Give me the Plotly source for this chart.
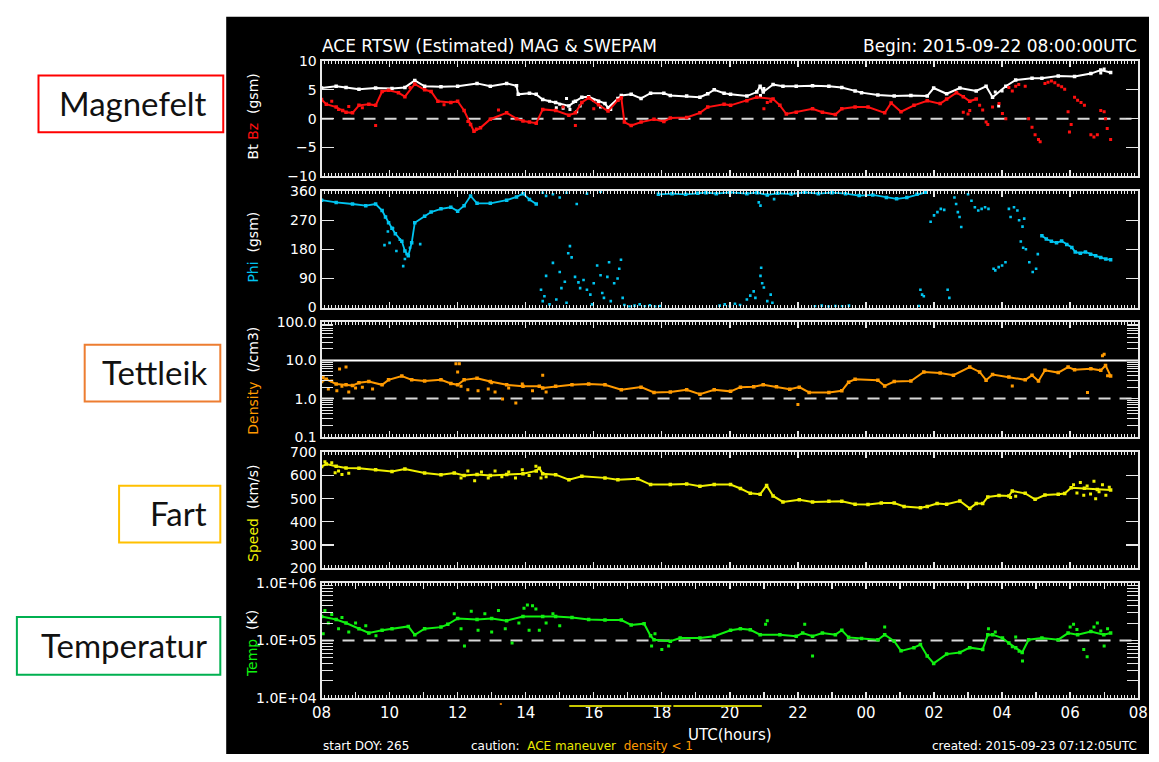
import plotly.graph_objects as go

# ---------------- data (hours since 2015-09-22 08:00 UTC, value) ----------------
HOUR_LABELS = ["08", "10", "12", "14", "16", "18", "20", "22", "00", "02", "04", "06", "08"]

BT_TREND = [(0.0,5.3),(0.43,5.6),(0.72,5.4),(1.10,5.1),(1.59,5.3),(2.07,5.2),(2.45,5.4),(2.74,6.6),(3.03,5.6),(3.51,5.5),
            (4.00,5.6),(4.57,6.1),(4.96,5.6),(5.44,6.1),(5.73,5.7),(5.78,4.2),(6.11,4.4),(6.31,4.2),(6.50,3.3),(6.88,2.8),
            (7.27,2.2),(7.46,3.0),(7.65,3.7),(7.85,3.8),(8.14,3.0),(8.33,2.6),(8.42,1.9),(8.71,3.5),(8.81,4.0),(9.10,4.2),
            (9.39,3.5),(9.67,4.4),(10.06,4.4),(10.25,4.0),(10.73,3.9),(11.12,3.7),(11.35,4.3),(11.54,5.0),(11.83,4.4),(12.02,4.2),
            (12.50,3.9),(12.79,4.6),(12.89,5.6),(12.98,4.6),(13.27,5.9),(13.56,5.6),(13.95,5.6),(14.43,5.7),(14.91,5.6),(15.29,5.4),
            (15.68,4.8),(15.87,4.5),(16.35,4.1),(16.83,3.9),(17.32,4.0),(17.80,3.9),(17.99,5.3),(18.37,4.3),(18.76,5.3),(19.24,4.8),
            (19.53,5.6),(19.72,3.7),(20.11,5.6),(20.40,6.7),(20.88,7.0),(21.17,7.0),(21.65,7.4),(22.13,7.3),(22.61,7.8),(22.90,8.4),(23.19,8.0)]
BT_SCATTER = [(6.7,3.0),(6.9,1.9),(7.0,2.5),(7.1,1.8),(7.2,3.5),(7.3,1.6),(7.4,2.9),(7.5,1.2),(7.6,2.2),(8.0,3.2),(8.2,2.0),
              (8.5,1.6),(12.9,4.0),(13.0,5.2),(19.8,4.6),(19.9,2.2),(20.0,4.8),(22.9,7.9),(23.0,8.6)]

BZ_TREND = [(0.0,3.3),(0.14,2.5),(0.43,2.0),(0.62,1.4),(0.72,1.1),(0.91,1.0),(1.10,2.3),(1.39,2.5),(1.59,2.3),(1.78,4.7),
            (1.97,4.9),(2.26,4.5),(2.45,3.8),(2.74,6.0),(3.03,5.0),(3.22,4.7),(3.42,3.0),(3.80,2.8),(4.00,3.0),(4.19,1.4),
            (4.38,-1.0),(4.48,-2.2),(4.67,-1.6),(4.96,-0.1),(5.44,1.0),(5.73,0.0),(5.92,-0.4),(6.11,-0.6),(6.31,-0.8),(6.50,1.6),
            (6.88,1.4),(7.27,0.6),(7.46,1.0),(7.65,2.8),(7.85,3.6),(8.14,2.4),(8.42,1.3),(8.71,3.2),(8.81,3.6),(8.90,-0.6),
            (9.10,-1.2),(9.39,-0.6),(9.77,-0.1),(10.06,-0.5),(10.25,0.1),(10.73,0.2),(11.12,1.0),(11.35,2.0),(11.83,2.5),(12.02,2.3),
            (12.50,3.1),(12.79,3.7),(13.27,3.4),(13.47,2.3),(13.66,0.8),(13.95,1.1),(14.43,1.7),(14.72,1.1),(15.10,0.7),(15.29,1.7),
            (15.68,2.0),(16.06,2.0),(16.55,1.0),(16.74,2.7),(17.03,1.2),(17.41,2.3),(17.80,3.1),(18.18,2.6),(18.37,3.4),(18.66,4.5),
            (18.86,3.8),(19.05,3.0),(19.24,3.4)]
BZ_SCATTER = [(0.3,3.0),(0.5,1.6),(0.8,2.1),(1.2,1.9),(1.59,-1.2),(2.6,5.4),(3.6,2.4),(4.3,-0.5),(4.55,-1.8),(5.2,1.5),
              (7.46,-1.2),(7.1,2.0),(8.0,1.7),(13.0,1.7),(13.1,2.8),(13.2,3.0),(18.86,1.1),(19.0,0.8),(19.05,1.4),(19.34,2.3),
              (19.43,1.5),(19.53,-0.6),(19.58,-1.0),(19.72,2.0),(19.91,2.6),(20.01,0.9),(20.11,0.0),(20.20,5.4),(20.30,4.8),(20.40,5.6),
              (20.49,5.9),(20.68,5.6),(20.78,0.0),(20.88,-1.5),(20.97,-2.8),(21.07,-3.6),(21.12,-4.0),(21.26,6.1),(21.35,6.3),(21.45,6.5),
              (21.55,6.2),(21.65,5.8),(21.75,5.5),(21.84,5.1),(21.94,1.2),(21.98,-2.3),(22.03,-1.0),(22.13,3.7),(22.22,3.2),(22.32,2.8),
              (22.42,2.3),(22.61,-2.8),(22.70,-3.2),(22.80,-2.8),(22.90,1.4),(23.00,1.2),(23.04,0.0),(23.09,-1.7),(23.19,-3.6)]

PHI_EARLY = [(0.0,332),(0.43,325),(0.91,320),(1.30,315),(1.59,320),(1.78,300),(1.88,280),(1.97,262),(2.07,245),(2.17,228),
             (2.36,205),(2.45,175),(2.55,160),(2.65,200),(2.74,262),(3.03,282),(3.22,295),(3.51,305),(3.80,310),(4.00,298),
             (4.19,315),(4.38,345),(4.57,322),(4.96,322),(5.44,332),(5.73,342),(5.92,352),(6.11,334),(6.31,320)]
PHI_TOP = [(9.9,350),(10.3,352),(10.7,350),(11.06,353),(11.3,355),(11.6,352),(12.0,356),(12.5,352),(12.8,355),(13.1,348),
           (13.4,353),(13.8,351),(14.2,356),(14.6,352),(15.0,355),(15.4,352),(15.8,346),(16.2,348),(16.6,340),(16.9,336),
           (17.2,340),(17.5,350),(17.75,356)]
PHI_LATE = [(21.17,222),(21.3,212),(21.45,205),(21.6,200),(21.75,206),(21.9,195),(22.05,186),(22.15,172),(22.3,168),
            (22.45,172),(22.6,165),(22.75,160),(22.9,155),(23.05,150),(23.19,148)]
PHI_SCATTER = [(1.85,193),(1.95,235),(2.0,200),(2.1,245),(2.2,175),(2.3,210),(2.4,128),(2.45,150),(2.5,165),(2.6,185),(2.9,196),
               (6.45,55),(6.50,20),(6.55,35),(6.6,98),(6.7,10),(6.8,138),(6.9,25),(7.0,110),(7.05,60),(7.15,80),(7.2,15),
               (7.25,168),(7.3,190),(7.35,155),(7.45,95),(7.55,78),(7.6,60),(7.7,85),(7.8,55),(7.9,40),(7.95,10),(8.0,75),
               (8.1,130),(8.2,100),(8.25,45),(8.3,30),(8.4,95),(8.45,140),(8.5,20),(8.6,75),(8.7,90),(8.75,120),(8.8,148),
               (8.85,30),(6.5,355),(6.6,345),(6.8,350),(7.0,340),(7.2,355),(7.5,320),(7.8,352),(8.2,358),
               (8.9,8),(9.05,3),(9.2,6),(9.35,10),(9.5,4),(9.65,7),(9.8,3),(9.95,5),(11.7,6),(11.85,10),(12.0,4),(12.15,12),
               (12.3,8),(14.5,4),(14.7,6),(14.9,3),(15.1,5),(15.3,4),(15.5,6),
               (12.85,325),(12.9,315),(13.3,335),(12.5,25),(12.6,37),(12.7,50),(12.75,30),(12.9,98),(12.92,123),(12.95,75),
               (13.0,62),(13.1,20),(13.2,40),(13.25,15),(17.55,5),(17.6,55),(17.65,40),(17.7,35),(17.9,265),(18.0,285),
               (18.1,295),(18.2,305),(18.3,302),(18.4,55),(18.45,30),(18.6,340),(18.65,320),(18.7,295),(18.75,280),(18.8,249),
               (19.0,350),(19.1,330),(19.2,310),(19.3,300),(19.4,305),(19.5,310),(19.6,305),(19.75,120),(19.8,115),(19.9,125),
               (20.0,130),(20.1,140),(20.2,305),(20.25,280),(20.35,310),(20.45,300),(20.5,270),(20.6,250),(20.65,275),
               (20.55,204),(20.62,185),(20.7,180),(20.8,140),(20.9,110),(21.0,120),(21.05,165)]

DENS_TREND = [(0.0,2.8),(0.14,3.2),(0.43,2.4),(0.72,2.3),(0.91,2.2),(1.10,2.6),(1.39,2.8),(1.78,2.3),(1.97,3.1),(2.36,3.9),
              (2.65,3.1),(3.03,2.9),(3.51,3.1),(3.80,2.5),(4.00,2.3),(4.19,3.1),(4.57,3.4),(4.96,2.8),(5.44,2.3),(5.92,2.1),
              (6.40,2.1),(6.50,1.9),(6.88,2.1),(7.36,2.3),(7.85,2.4),(8.33,2.3),(8.81,1.7),(9.39,2.0),(9.77,1.45),(10.25,1.5),
              (10.73,1.7),(11.12,1.3),(11.54,1.7),(12.02,1.55),(12.31,2.0),(12.70,2.05),(12.98,2.3),(13.37,2.05),(13.76,1.75),(14.04,2.0),
              (14.33,1.45),(14.91,1.45),(15.29,1.6),(15.49,2.7),(15.68,3.2),(16.35,3.05),(16.55,2.15),(16.83,2.8),(17.32,2.9),(17.70,5.0),
              (18.18,4.7),(18.57,4.1),(19.05,6.7),(19.34,5.0),(19.53,3.05),(19.72,4.3),(20.20,3.7),(20.68,3.1),(20.88,4.1),(21.07,2.9),
              (21.26,5.5),(21.65,4.8),(21.94,6.7),(22.13,5.7),(22.61,6.1),(22.90,5.5),(23.04,7.4),(23.19,3.9)]
DENS_SCATTER = [(0.05,3.6),(0.2,1.8),(0.3,2.9),(0.45,1.6),(0.53,6.0),(0.6,2.1),(0.72,6.7),(0.8,1.5),(1.0,1.9),(1.2,2.0),
                (1.5,1.8),(3.95,8.2),(4.05,8.2),(4.0,5.0),(4.1,2.1),(4.3,1.7),(4.6,1.6),(4.9,1.8),(5.0,2.6),(5.1,1.5),
                (5.32,0.98),(5.5,1.9),(5.71,0.77),(5.9,2.4),(6.2,1.6),(6.5,4.1),(6.6,1.5),(14.0,0.70),(20.3,2.15),(22.51,1.45),
                (22.95,13.3),(23.0,14.6),(23.1,4.0)]

SPEED_TREND = [(0.0,639),(0.14,650),(0.43,640),(0.72,633),(1.10,632),(1.59,625),(2.07,618),(2.45,628),(3.03,611),(3.51,604),
               (3.90,611),(4.19,600),(4.57,605),(4.96,600),(5.44,605),(5.92,608),(6.31,620),(6.40,632),(6.50,608),(6.88,604),
               (7.27,582),(7.65,597),(8.33,590),(8.71,582),(9.29,586),(9.67,561),(10.25,561),(10.73,564),(11.12,554),(11.54,561),
               (12.02,561),(12.31,544),(12.60,523),(12.89,519),(13.08,557),(13.27,512),(13.56,486),(14.04,495),(14.43,486),(14.91,489),
               (15.29,489),(15.68,476),(16.06,475),(16.45,481),(16.83,481),(17.12,466),(17.60,461),(17.80,466),(18.09,479),(18.37,476),
               (18.76,490),(19.05,458),(19.24,479),(19.43,479),(19.58,507),(19.91,514),(20.20,512),(20.30,533),(20.68,523),(20.97,497),
               (21.26,516),(21.65,519),(21.84,522),(22.03,547),(22.42,545),(22.80,540),(23.19,538)]
SPEED_SCATTER = [(0.1,660),(0.3,655),(0.4,612),(0.5,620),(0.6,605),(0.8,610),(4.1,590),(4.3,620),(4.5,578),(4.7,615),
                 (4.9,590),(5.1,620),(5.3,595),(5.5,615),(5.7,590),(5.9,625),(6.1,600),(6.3,640),(6.45,590),(6.6,595),
                 (20.25,505),(20.4,510),(22.1,560),(22.2,525),(22.3,570),(22.4,515),(22.5,555),(22.6,520),(22.7,575),(22.75,500),
                 (22.85,530),(22.95,560),(23.05,515),(23.15,550)]

TEMP_TREND = [(0.0,2.6e5),(0.43,2.3e5),(0.72,2.0e5),(1.10,1.6e5),(1.39,1.35e5),(1.78,1.5e5),(2.07,1.6e5),(2.55,1.75e5),(2.74,1.25e5),
              (3.03,1.6e5),(3.51,1.7e5),(3.71,1.9e5),(4.00,2.4e5),(4.57,2.3e5),(5.00,2.4e5),(5.44,2.2e5),(5.92,2.6e5),(6.50,2.6e5),
              (6.88,2.6e5),(7.36,2.5e5),(7.85,2.3e5),(8.33,2.25e5),(8.81,2.25e5),(9.10,1.85e5),(9.48,1.95e5),(9.67,1.2e5),(9.77,1.03e5),
              (10.25,9.7e4),(10.54,1.1e5),(11.12,1.1e5),(11.54,1.18e5),(12.02,1.5e5),(12.31,1.6e5),(12.60,1.53e5),(12.89,1.26e5),
              (13.47,1.26e5),(13.95,1.18e5),(14.14,1.34e5),(14.43,1.18e5),(14.72,1.34e5),(15.10,1.26e5),(15.29,1.5e5),(15.49,1.13e5),
              (15.87,1.08e5),(16.35,1.03e5),(16.55,1.26e5),(16.83,9.7e4),(17.03,6.6e4),(17.41,7.5e4),(17.60,8.5e4),(17.80,5.4e4),
              (17.99,4.0e4),(18.37,5.8e4),(18.76,6.2e4),(19.05,7.5e4),(19.43,7.0e4),(19.58,1.26e5),(19.72,1.26e5),(20.01,1.1e5),
              (20.20,9.0e4),(20.40,7.5e4),(20.59,6.2e4),(20.78,1.03e5),(21.17,1.1e5),(21.65,1.03e5),(21.94,1.34e5),(22.22,1.26e5),
              (22.61,1.43e5),(22.99,1.26e5),(23.19,1.34e5)]
TEMP_SCATTER = [(0.05,1.3e5),(0.1,3.3e5),(0.2,2.0e5),(0.3,2.8e5),(0.5,1.6e5),(0.6,2.5e5),(0.8,1.4e5),(1.0,2.0e5),(1.3,1.8e5),
                (1.6,1.2e5),(3.9,2.9e5),(4.1,1.6e5),(4.2,8.0e4),(4.4,3.2e5),(4.6,1.5e5),(4.8,2.9e5),(5.0,1.4e5),(5.2,3.3e5),
                (5.4,1.6e5),(5.6,9.0e4),(5.8,2.0e5),(5.95,3.6e5),(6.05,4.1e5),(6.1,1.5e5),(6.2,4.0e5),(6.3,3.5e5),(6.4,1.5e5),
                (6.6,2.0e5),(6.8,2.9e5),(7.0,1.8e5),(9.7,8.0e4),(9.8,1.3e5),(10.0,7.0e4),(10.2,8.0e4),(13.05,1.9e5),(13.1,2.2e5),
                (14.2,1.9e5),(14.43,5.4e4),(16.55,1.7e5),(19.6,1.6e5),(19.8,1.4e5),(20.3,7.8e4),(20.4,1.15e5),(20.5,6.5e4),
                (20.6,4.4e4),(22.0,1.7e5),(22.1,1.9e5),(22.2,1.55e5),(22.4,7.0e4),(22.5,5.2e4),(22.7,1.7e5),(22.8,2.0e5),
                (22.9,1.45e5),(23.0,8.0e4),(23.1,1.6e5)]

MANEUVER_SPANS = [(7.28, 10.28), (10.34, 12.94)]
LOW_DENSITY_SPANS = [(5.24, 5.30)]

# ---------------- styling ----------------
W, H = 1159, 762
AX = "#e8e8e8"
C_BT, C_BZ, C_PHI = "#ffffff", "#ff1010", "#00c4f0"
C_DEN, C_SPD, C_TMP = "#ff9a00", "#f0f000", "#10f010"
FONT = "DejaVu Sans"

def fx(p):
    return p / W

def fy(p):
    return 1 - p / H

def unzip(pairs):
    return [p[0] for p in pairs], [p[1] for p in pairs]

X_DOMAIN = [fx(317), fx(1148)]
PANEL_PX = [(54, 172), (187, 306), (321, 438), (454, 572), (587, 705)]

fig = go.Figure()

def line(pairs, color, i, width=2.0):
    x, y = unzip(pairs)
    fig.add_trace(go.Scatter(x=x, y=y, mode="lines+markers", line=dict(color=color, width=width),
                             marker=dict(color=color, size=3.5, symbol="square", line=dict(width=0)),
                             xaxis=f"x{i}", yaxis=f"y{i}", showlegend=False, hoverinfo="skip"))

def dots(pairs, color, i, size=3):
    x, y = unzip(pairs)
    fig.add_trace(go.Scatter(x=x, y=y, mode="markers",
                             marker=dict(color=color, size=size, symbol="square", line=dict(width=0)),
                             xaxis=f"x{i}", yaxis=f"y{i}", showlegend=False, hoverinfo="skip"))

def hline(level, i, dash="12px,9px", color="#d8d8d8", width=2):
    fig.add_trace(go.Scatter(x=[0, 24], y=[level, level], mode="lines",
                             line=dict(color=color, width=width, dash=dash),
                             xaxis=f"x{i}", yaxis=f"y{i}", showlegend=False, hoverinfo="skip"))

# reference lines
hline(0, 1)
hline(1.0, 3)
hline(10.0, 3, dash="solid", color="#ffffff")
hline(1e5, 5)

# data
line(BT_TREND, C_BT, 1); dots(BT_SCATTER, C_BT, 1)
line(BZ_TREND, C_BZ, 1); dots(BZ_SCATTER, C_BZ, 1)
line(PHI_EARLY, C_PHI, 2, 1.8); line(PHI_TOP, C_PHI, 2, 1.8); line(PHI_LATE, C_PHI, 2, 1.8); dots(PHI_SCATTER, C_PHI, 2, 2.6)
line(DENS_TREND, C_DEN, 3); dots(DENS_SCATTER, C_DEN, 3)
line(SPEED_TREND, C_SPD, 4); dots(SPEED_SCATTER, C_SPD, 4)
line(TEMP_TREND, C_TMP, 5); dots(TEMP_SCATTER, C_TMP, 5)

# ---------------- axes ----------------
hour_ticks = list(range(0, 25))
hour_text = []
for h in hour_ticks:
    hour_text.append(HOUR_LABELS[h // 2] if h % 2 == 0 else "")

def log_minor(lo, hi):
    return [m * 10 ** e for e in range(lo, hi) for m in range(2, 10)]

Y_SPECS = [
    dict(type="linear", range=[-10, 10], tickvals=[-10, -5, 0, 5, 10], ticktext=["\u221210", "\u22125", "0", "5", "10"]),
    dict(type="linear", range=[0, 360], tickvals=[0, 90, 180, 270, 360], ticktext=["0", "90", "180", "270", "360"]),
    dict(type="log", range=[-1, 2], tickvals=[0.1, 1, 10, 100], ticktext=["0.1", "1.0", "10.0", "100.0"],
         minor=log_minor(-1, 2)),
    dict(type="linear", range=[200, 700], tickvals=[200, 300, 400, 500, 600, 700],
         ticktext=["200", "300", "400", "500", "600", "700"]),
    dict(type="log", range=[4, 6], tickvals=[1e4, 1e5, 1e6], ticktext=["1.0E+04", "1.0E+05", "1.0E+06"],
         minor=log_minor(4, 6)),
]

layout_axes = {}
for k, ((top, bot), spec) in enumerate(zip(PANEL_PX, Y_SPECS), start=1):
    xa = dict(domain=X_DOMAIN, range=[0, 24], anchor=f"y{k}", showline=True, linecolor=AX, linewidth=2,
              mirror="ticks", ticks="inside", ticklen=6, tickwidth=1.3, tickcolor=AX,
              tickmode="array", tickvals=hour_ticks, ticktext=hour_text, showticklabels=(k == 5),
              ticklabeloverflow="allow",
              tickfont=dict(family=FONT, size=15, color="#ffffff"), showgrid=False, zeroline=False,
              minor=dict(ticks="inside", ticklen=3, tickwidth=1, tickcolor=AX, tickmode="linear",
                         tick0=0, dtick=0.1, showgrid=False))
    ya = dict(domain=[fy(bot), fy(top)], type=spec["type"], range=spec["range"], anchor=f"x{k}",
              showline=True, linecolor=AX, linewidth=2, mirror="ticks", ticks="inside", ticklen=12,
              tickwidth=1.3, tickcolor=AX, tickmode="array", tickvals=spec["tickvals"], ticktext=spec["ticktext"],
              ticklabeloverflow="allow",
              tickfont=dict(family=FONT, size=14, color="#ffffff"), showgrid=False, zeroline=False)
    if "minor" in spec:
        ya["minor"] = dict(ticks="inside", ticklen=11, tickwidth=1, tickcolor=AX, tickmode="array",
                           tickvals=spec["minor"], showgrid=False)
    layout_axes["xaxis" if k == 1 else f"xaxis{k}"] = xa
    layout_axes["yaxis" if k == 1 else f"yaxis{k}"] = ya

# ---------------- shapes ----------------
shapes = [dict(type="rect", xref="paper", yref="paper", x0=fx(220), x1=1, y0=0, y1=fy(9),
               fillcolor="#000000", line=dict(width=0), layer="below")]
for a, b in MANEUVER_SPANS:
    shapes.append(dict(type="line", xref="x5", yref="paper", x0=a, x1=b, y0=fy(713), y1=fy(713),
                       line=dict(color="#c8c800", width=2)))
for a, b in LOW_DENSITY_SPANS:
    shapes.append(dict(type="line", xref="x5", yref="paper", x0=a, x1=b, y0=fy(711), y1=fy(711),
                       line=dict(color="#d07000", width=2)))

BOXES = [("Magnefelt", "#ff0000", 29, 217, 69, 127),
         ("Tettleik", "#ed7d31", 76, 214, 344, 402),
         ("Fart", "#ffc000", 111, 214, 488, 546),
         ("Temperatur", "#00b050", 7, 214, 622, 681)]
annotations = []
for text, col, x0, x1, y0, y1 in BOXES:
    shapes.append(dict(type="rect", xref="paper", yref="paper", x0=fx(x0), x1=fx(x1), y0=fy(y1), y1=fy(y0),
                       line=dict(color=col, width=2), fillcolor="rgba(0,0,0,0)"))
    annotations.append(dict(text=text, xref="paper", yref="paper", x=fx(202), y=fy((y0 + y1) / 2 - 1),
                            xanchor="right", yanchor="middle", showarrow=False,
                            font=dict(family="Lato", size=33, color="#111111")))

def txt(s, x, y, size, xanchor="left", color="#ffffff", angle=0):
    annotations.append(dict(text=s, xref="paper", yref="paper", x=fx(x), y=fy(y), xanchor=xanchor,
                            yanchor="middle", showarrow=False, textangle=angle,
                            font=dict(family=FONT, size=size, color=color)))

txt("ACE RTSW (Estimated) MAG &amp; SWEPAM", 315, 39, 17)
txt("Begin: 2015-09-22 08:00:00UTC", 1149, 39, 17, xanchor="right")
txt("UTC(hours)", 733, 743, 15, xanchor="center")
txt("start DOY: 265", 316, 754, 12)
txt("caution:  <span style='color:#e8e800'>ACE maneuver</span>  <span style='color:#ff9a00'>density &lt; 1</span>",
    467, 754, 12)
txt("created: 2015-09-23 07:12:05UTC", 1149, 754, 12, xanchor="right")

txt("Bt <span style='color:#ff1010'>Bz</span>  (gsm)", 247, 111, 14, xanchor="center", angle=-90)
txt("<span style='color:#00c4f0'>Phi</span>  (gsm)", 247, 244, 14, xanchor="center", angle=-90)
txt("<span style='color:#ff9a00'>Density</span>  (/cm3)", 247, 381, 14, xanchor="center", angle=-90)
txt("<span style='color:#f0f000'>Speed</span>  (km/s)", 247, 516, 14, xanchor="center", angle=-90)
txt("<span style='color:#10f010'>Temp</span>  (K)", 247, 649, 14, xanchor="center", angle=-90)

fig.update_layout(width=W, height=H, autosize=False, margin=dict(l=0, r=0, t=0, b=0),
                  paper_bgcolor="#ffffff", plot_bgcolor="#000000", showlegend=False,
                  shapes=shapes, annotations=annotations, **layout_axes)

# the browser's default 8px body margin would push the 1159x762 figure off the window
POST = ("document.documentElement.style.margin='0';document.documentElement.style.overflow='hidden';"
        "document.body.style.margin='0';document.body.style.padding='0';document.body.style.overflow='hidden';")

fig.write_html("out.html", config={"displayModeBar": False, "staticPlot": True}, post_script=POST)
